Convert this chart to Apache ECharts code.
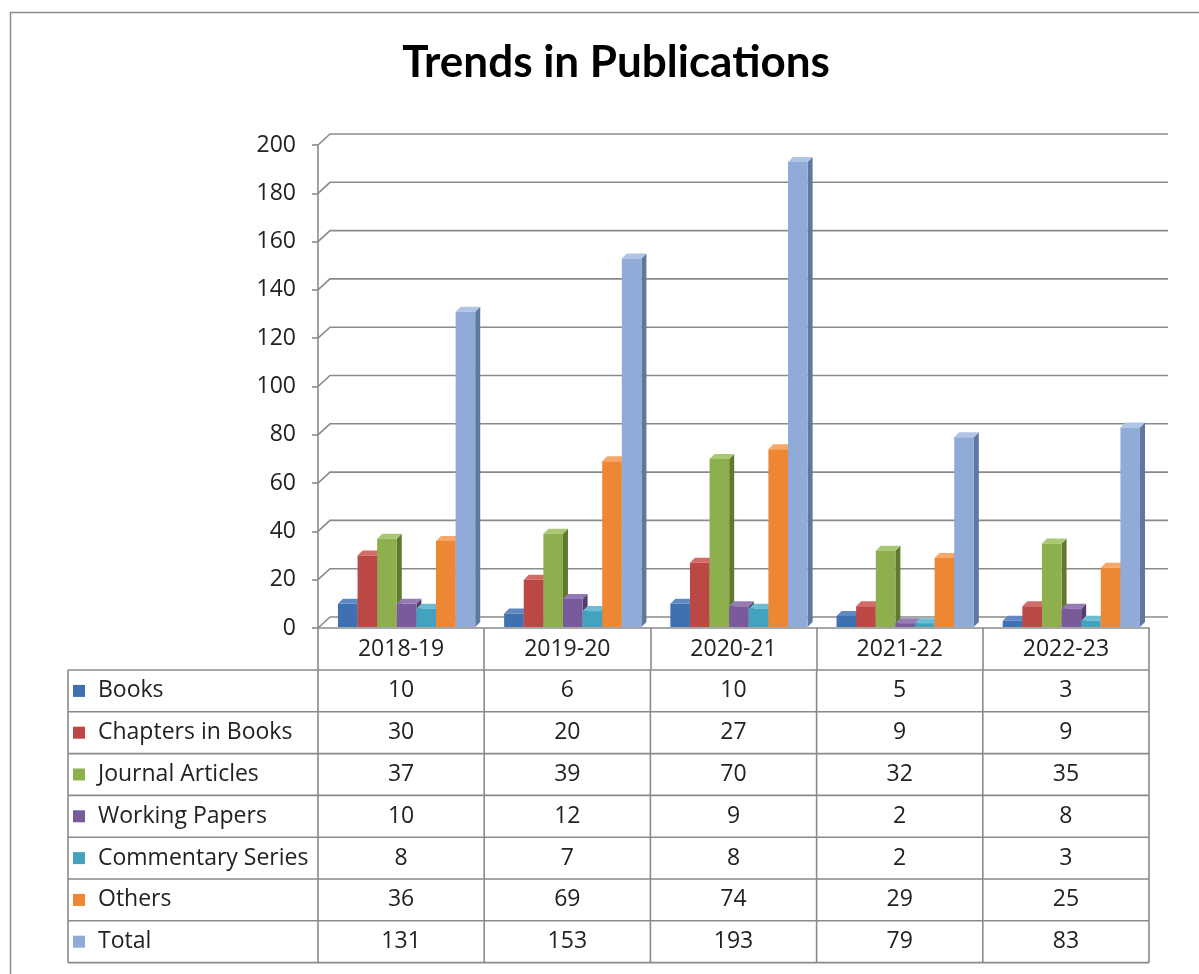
<!DOCTYPE html>
<html>
<head>
<meta charset="utf-8">
<script src="https://cdn.jsdelivr.net/npm/echarts@6/dist/echarts.min.js"></script>
<style>
html,body{margin:0;padding:0;background:#fff;}
#main{width:1199px;height:974px;}
</style>
</head>
<body>
<div id="main"></div>
<script>
const categories = ['2018-19', '2019-20', '2020-21', '2021-22', '2022-23'];
const books = [10, 6, 10, 5, 3];
const chapters = [30, 20, 27, 9, 9];
const journal = [37, 39, 70, 32, 35];
const working = [10, 12, 9, 2, 8];
const commentary = [8, 7, 8, 2, 3];
const others = [36, 69, 74, 29, 25];
const total = [131, 153, 193, 79, 83];
const yTicks = [0, 20, 40, 60, 80, 100, 120, 140, 160, 180, 200];

const seriesNames = ['Books', 'Chapters in Books', 'Journal Articles', 'Working Papers', 'Commentary Series', 'Others', 'Total'];
const seriesValues = [books, chapters, journal, working, commentary, others, total];
const palette = [
  {front: '#3f70b2', side: '#2b5084', top: '#6089c4'},
  {front: '#bb4845', side: '#8a302e', top: '#d16c69'},
  {front: '#8daf4d', side: '#5f7a30', top: '#aac773'},
  {front: '#795b9b', side: '#523d6e', top: '#957bb4'},
  {front: '#43a3be', side: '#2c7386', top: '#6dbcd2'},
  {front: '#ed8733', side: '#b3601f', top: '#f5a867'},
  {front: '#91abd8', side: '#60789f', top: '#b0c4e5'}
];
const FONT = '"Open Sans", Lato, sans-serif';
const TFONT = 'Lato, "Open Sans", sans-serif';
const TXT = '#222';
const LINE = '#8a8a8a';

const chart = echarts.init(document.getElementById('main'), null, {renderer: 'canvas'});

const DX = 5, DY = 5;
function barRender(si) {
  return function (params, api) {
    const cat = api.value(0), v = api.value(1);
    const p0 = api.coord([cat, 0]);
    const p1 = api.coord([cat, v]);
    const band = api.size([1, 0])[0];
    const pitch = band * 0.118;
    const x = p0[0] - band / 2 + band * 0.12 + si * pitch;
    const w = pitch;
    const top = p1[1], base = p0[1] - 1;
    const c = palette[si];
    return {
      type: 'group',
      children: [
        {type: 'polygon', shape: {points: [[x + w, top], [x + w + DX, top - DY], [x + w + DX, base - DY], [x + w, base]]}, style: {fill: c.side}},
        {type: 'polygon', shape: {points: [[x, top], [x + DX, top - DY], [x + w + DX, top - DY], [x + w, top]]}, style: {fill: c.top}},
        {type: 'rect', shape: {x: x, y: top, width: w, height: base - top}, style: {fill: c.front}}
      ]
    };
  };
}

function gridRender(params, api) {
  const v = api.value(1);
  const p = api.coord([0, v]);
  const band = api.size([1, 0])[0];
  const x0 = p[0] - band / 2;
  const xEnd = api.coord([categories.length - 1, v])[0] + band / 2 + 19;
  return {
    type: 'polyline',
    shape: {points: [[x0, p[1]], [x0 + 12, p[1] - 11], [xEnd, p[1] - 11]]},
    style: {stroke: LINE, lineWidth: 1.6, fill: null}
  };
}

const series = [{
  type: 'custom',
  name: 'grid',
  z: 1,
  silent: true,
  renderItem: gridRender,
  encode: {x: 0, y: 1},
  data: yTicks.map(t => [0, t])
}];
seriesValues.forEach((vals, si) => {
  series.push({
    type: 'custom',
    name: seriesNames[si],
    z: 2 + si,
    renderItem: barRender(si),
    encode: {x: 0, y: 1},
    data: vals.map((v, j) => [j, v])
  });
});

const option = {
  animation: false,
  backgroundColor: '#fff',
  title: {
    text: 'Trends in Publications',
    left: 611,
    textAlign: 'center',
    top: 36,
    textStyle: {fontFamily: TFONT, fontSize: 44, fontWeight: 'bold', color: '#000'}
  },
  grid: {left: 318, right: 50, top: 145, bottom: 346},
  xAxis: {
    type: 'category',
    data: categories,
    boundaryGap: true,
    axisLine: {show: true, lineStyle: {color: LINE, width: 1.6}},
    axisTick: {show: true, length: 42, interval: 0, lineStyle: {color: LINE, width: 1.6}},
    axisLabel: {fontFamily: FONT, fontSize: 23, color: TXT, margin: 10},
    splitLine: {show: false}
  },
  yAxis: {
    type: 'value',
    min: 0,
    max: 200,
    interval: 20,
    axisLine: {show: true, lineStyle: {color: LINE, width: 1.6}},
    axisTick: {show: true, length: 6, lineStyle: {color: LINE, width: 1.6}},
    axisLabel: {fontFamily: FONT, fontSize: 23, color: TXT, margin: 22},
    splitLine: {show: false}
  },
  series: series
};
chart.setOption(option);

// Data table below the plot, built from the same arrays
const tableTop = 670, rowH = 41.8, tableLeft = 68;
const colEdges = [];
const band = chart.convertToPixel({xAxisIndex: 0}, 1) - chart.convertToPixel({xAxisIndex: 0}, 0);
for (let j = 0; j <= categories.length; j++) {
  colEdges.push(chart.convertToPixel({xAxisIndex: 0}, 0) - band / 2 + j * band);
}
const tableRight = colEdges[colEdges.length - 1];
const tableBottom = tableTop + rowH * seriesNames.length;
const g = [];
g.push({type: 'polyline', shape: {points: [[10.5, 974], [10.5, 12.5], [1199, 12.5]]}, style: {stroke: '#8c8c8c', lineWidth: 1.5, fill: null}, silent: true});
for (let r = 0; r <= seriesNames.length; r++) {
  const y = tableTop + r * rowH;
  g.push({type: 'line', shape: {x1: tableLeft, y1: y, x2: tableRight, y2: y}, style: {stroke: LINE, lineWidth: 1.6}, silent: true});
}
g.push({type: 'line', shape: {x1: tableLeft, y1: tableTop, x2: tableLeft, y2: tableBottom}, style: {stroke: LINE, lineWidth: 1.6}, silent: true});
colEdges.forEach(x => {
  g.push({type: 'line', shape: {x1: x, y1: tableTop, x2: x, y2: tableBottom}, style: {stroke: LINE, lineWidth: 1.6}, silent: true});
});
seriesNames.forEach((name, r) => {
  const cy = tableTop + r * rowH + rowH / 2;
  g.push({type: 'rect', shape: {x: 73, y: cy - 6, width: 12, height: 12}, style: {fill: palette[r].front}, silent: true});
  g.push({type: 'text', x: 98, y: cy, style: {text: name, fontFamily: FONT, fontSize: 23, fill: TXT, verticalAlign: 'middle', textAlign: 'left'}, silent: true});
  seriesValues[r].forEach((v, j) => {
    const cx = chart.convertToPixel({xAxisIndex: 0}, j);
    g.push({type: 'text', x: cx, y: cy, style: {text: String(v), fontFamily: FONT, fontSize: 23, fill: TXT, verticalAlign: 'middle', textAlign: 'center'}, silent: true});
  });
});
chart.setOption({graphic: g});
</script>
</body>
</html>
